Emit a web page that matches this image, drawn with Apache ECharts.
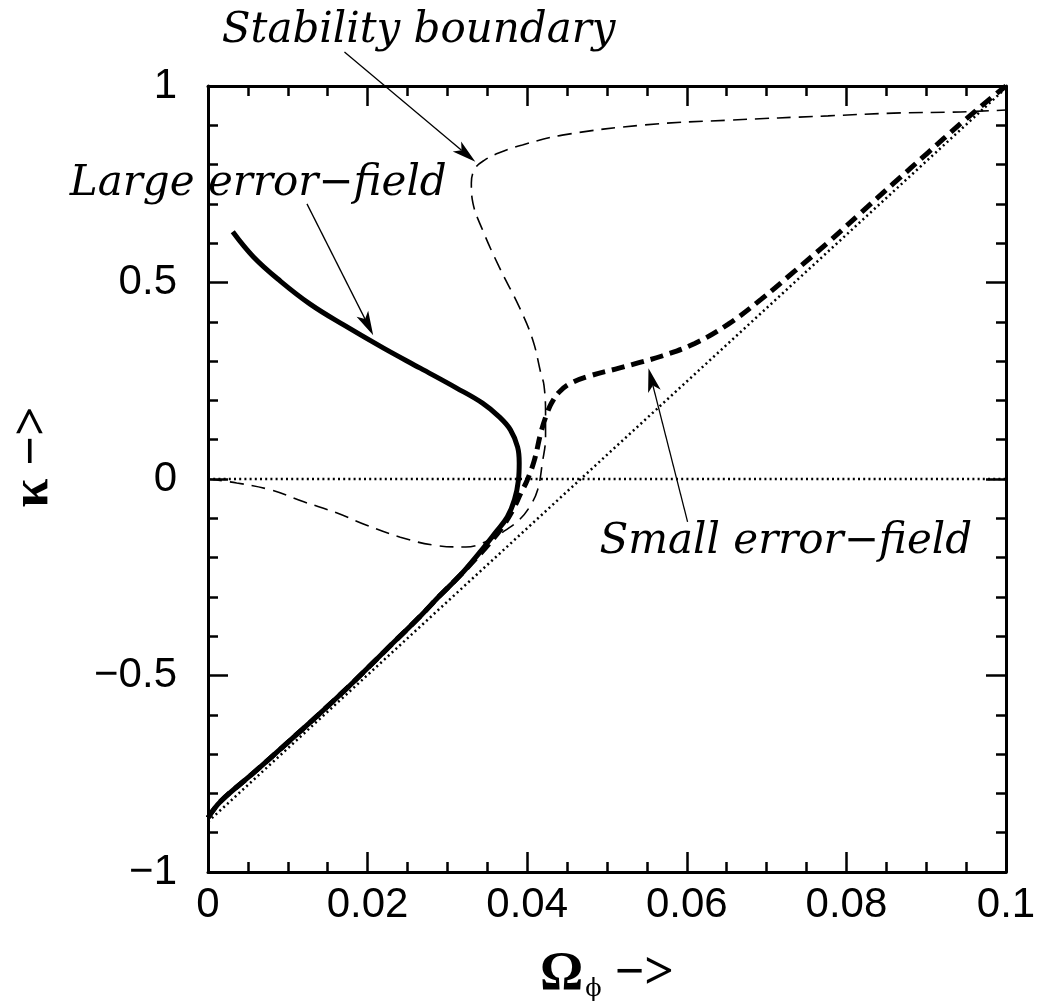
<!DOCTYPE html>
<html><head><meta charset="utf-8">
<script src="https://cdn.jsdelivr.net/npm/echarts@6/dist/echarts.min.js"></script>
<style>html,body{margin:0;padding:0;background:#fff}#c{width:1042px;height:1008px}</style>
</head><body><div id="c"></div>
<script>
// ---- data (x = Omega_phi, y = kappa) ----
const xTickLabels = ['0', '0.02', '0.04', '0.06', '0.08', '0.1'];
const yTickLabels = ['\u22121', '\u22120.5', '0', '0.5', '1'];

const zeroLine = [[0, 0], [0.1, 0]];
const diagonal = [[0, -0.872], [0.1, 0.995]];

const stabilityBoundary = [
  [0, 0], [0.0036, -0.010], [0.0079, -0.028], [0.0120, -0.058], [0.0161, -0.086],
  [0.0198, -0.117], [0.0241, -0.148], [0.0282, -0.168], [0.0323, -0.173], [0.0353, -0.155],
  [0.0373, -0.130], [0.0390, -0.104], [0.0403, -0.071], [0.0413, -0.028], [0.0419, 0.041],
  [0.0423, 0.107], [0.0423, 0.168], [0.0421, 0.239], [0.0417, 0.270], [0.0407, 0.354],
  [0.0390, 0.438], [0.0365, 0.539], [0.0344, 0.634], [0.0332, 0.702], [0.0330, 0.753],
  [0.0335, 0.791], [0.0347, 0.812], [0.0365, 0.830], [0.0394, 0.850], [0.0444, 0.875],
  [0.0547, 0.901], [0.0652, 0.913], [0.0777, 0.924], [0.0859, 0.931], [0.0943, 0.934],
  [0.1, 0.939]
];

const largeErrorField = [
  [0.0031, 0.629], [0.0057, 0.565], [0.0091, 0.503], [0.0128, 0.445], [0.0170, 0.392],
  [0.0220, 0.333], [0.0266, 0.282], [0.0311, 0.232], [0.0344, 0.193], [0.0365, 0.158],
  [0.0379, 0.125], [0.0388, 0.081], [0.0390, 0.041], [0.0389, -0.003], [0.0384, -0.053],
  [0.0375, -0.097], [0.0360, -0.137], [0.0340, -0.188], [0.0316, -0.245], [0.0290, -0.298],
  [0.0266, -0.349], [0.0223, -0.435], [0.0182, -0.517], [0.0141, -0.595], [0.0099, -0.672],
  [0.0057, -0.748], [0.0016, -0.820], [0, -0.862]
];

const smallErrorField = [
  [0, -0.862], [0.0016, -0.820], [0.0057, -0.748], [0.0099, -0.672], [0.0141, -0.595],
  [0.0182, -0.517], [0.0223, -0.435], [0.0266, -0.349], [0.0290, -0.298], [0.0316, -0.245],
  [0.0335, -0.204], [0.0353, -0.163], [0.0369, -0.122], [0.0382, -0.079], [0.0392, -0.036],
  [0.0400, -0.003], [0.0409, 0.048], [0.0417, 0.117], [0.0425, 0.168], [0.0431, 0.195],
  [0.0440, 0.221], [0.0453, 0.242], [0.0478, 0.262], [0.0515, 0.282], [0.0540, 0.296],
  [0.0569, 0.313], [0.0610, 0.345], [0.0652, 0.394], [0.0693, 0.457], [0.0734, 0.527],
  [0.0777, 0.602], [0.0818, 0.677], [0.0859, 0.752], [0.0902, 0.830], [0.0943, 0.904],
  [0.0984, 0.974], [0.1, 1.0]
];

const annotationTexts = ['Stability boundary', 'Large error\u2212field', 'Small error\u2212field'];
const annotationTextAt = [[0.0264, 1.140], [0.0063, 0.750], [0.0724, -0.160]];
const arrowTails = [[0.0171, 1.0865], [0.0124, 0.700], [0.0601, -0.109]];
const arrowTips = [[0.0335, 0.807], [0.0207, 0.366], [0.0552, 0.282]];

// ---- chart ----
const chart = echarts.init(document.getElementById('c'), null, { renderer: 'canvas' });
const black = '#000';
const labelFont = { fontFamily: 'Liberation Sans', fontSize: 42, color: black };

function xAxisDef(pos, showLabel) {
  return {
    type: 'value', position: pos, min: 0, max: 0.1, interval: 0.02,
    axisLine: { show: true, onZero: false, lineStyle: { color: black, width: 3 } },
    axisTick: { show: true, inside: true, length: 20, lineStyle: { color: black, width: 2.5 } },
    minorTick: { show: true, splitNumber: 4, length: 10, lineStyle: { color: black, width: 2.5 } },
    splitLine: { show: false }, minorSplitLine: { show: false },
    axisLabel: Object.assign({ show: showLabel, margin: 12,
      formatter: v => xTickLabels[Math.round(v / 0.02)] }, labelFont)
  };
}
function yAxisDef(pos, showLabel) {
  return {
    type: 'value', position: pos, min: -1, max: 1, interval: 0.5,
    axisLine: { show: true, onZero: false, lineStyle: { color: black, width: 3 } },
    axisTick: { show: true, inside: true, length: 20, lineStyle: { color: black, width: 2.5 } },
    minorTick: { show: true, splitNumber: 5, length: 10, lineStyle: { color: black, width: 2.5 } },
    splitLine: { show: false }, minorSplitLine: { show: false },
    axisLabel: Object.assign({ show: showLabel, margin: 31,
      formatter: v => yTickLabels[Math.round((v + 1) / 0.5)] }, labelFont)
  };
}

const xBottom = xAxisDef('bottom', true);
xBottom.name = '{a|\u03A9}{b|\u03D5}{c| \u2212>}';
xBottom.nameLocation = 'middle';
xBottom.nameGap = 76;
xBottom.nameTextStyle = {
  rich: {
    a: { fontFamily: 'Liberation Serif', fontWeight: 'bold', fontSize: 54, color: black },
    b: { fontFamily: 'DejaVu Serif', fontSize: 24, color: black, verticalAlign: 'bottom', padding: [24, 0, 0, 2] },
    c: { fontFamily: 'Liberation Serif', fontWeight: 'bold', fontSize: 52, color: black }
  }
};
const yLeft = yAxisDef('left', true);
yLeft.name = '\u03BA \u2212>';
yLeft.nameLocation = 'middle';
yLeft.nameRotate = 90;
yLeft.nameGap = 148;
yLeft.nameTextStyle = { fontFamily: 'Liberation Serif', fontWeight: 'bold', fontSize: 52, color: black, padding: [0, 0, 0, 44] };

function lineSeries(name, data, width, type, z, smooth) {
  return { name, type: 'line', data, xAxisIndex: 0, yAxisIndex: 0, showSymbol: false, symbol: 'none',
    smooth, z, lineStyle: { color: black, width, type, cap: 'butt' }, silent: true, animation: false };
}

chart.setOption({
  animation: false,
  backgroundColor: '#fff',
  grid: { left: 204, top: 86, width: 802, height: 786, containLabel: false },
  xAxis: [xBottom, xAxisDef('top', false)],
  yAxis: [yLeft, yAxisDef('right', false)],
  series: [
    lineSeries('zero', zeroLine, 2.5, [2, 3.2], 2, false),
    lineSeries('diagonal', diagonal, 2.5, [2, 3.2], 2, false),
    lineSeries('Stability boundary', stabilityBoundary, 1.6, [14, 8], 3, 0.4),
    lineSeries('Large error-field', largeErrorField, 5, 'solid', 4, 0.4),
    lineSeries('Small error-field', smallErrorField, 5, [13, 7], 5, 0.4)
  ]
});

// annotations placed from data coordinates
const graphics = [];
for (let i = 0; i < annotationTexts.length; i++) {
  const p = chart.convertToPixel({ gridIndex: 0 }, annotationTextAt[i]);
  graphics.push({ type: 'text', x: p[0], y: p[1], z: 10,
    style: { text: annotationTexts[i], fill: black, font: 'italic 42px "DejaVu Serif"', align: 'center', verticalAlign: 'middle' } });
  const a = chart.convertToPixel({ gridIndex: 0 }, arrowTails[i]);
  const b = chart.convertToPixel({ gridIndex: 0 }, arrowTips[i]);
  const dx = b[0] - a[0], dy = b[1] - a[1], L = Math.hypot(dx, dy);
  const ux = dx / L, uy = dy / L, nx = -uy, ny = ux;
  const hl = 24, hw = 6.5, notch = 18;
  graphics.push({ type: 'line', z: 10, shape: { x1: a[0], y1: a[1], x2: b[0] - ux * notch, y2: b[1] - uy * notch },
    style: { stroke: black, lineWidth: 1.3 } });
  graphics.push({ type: 'polygon', z: 10, shape: { points: [
    [b[0], b[1]],
    [b[0] - ux * hl + nx * hw, b[1] - uy * hl + ny * hw],
    [b[0] - ux * notch, b[1] - uy * notch],
    [b[0] - ux * hl - nx * hw, b[1] - uy * hl - ny * hw]
  ] }, style: { fill: black } });
}
chart.setOption({ graphic: graphics });
</script>
</body></html>
